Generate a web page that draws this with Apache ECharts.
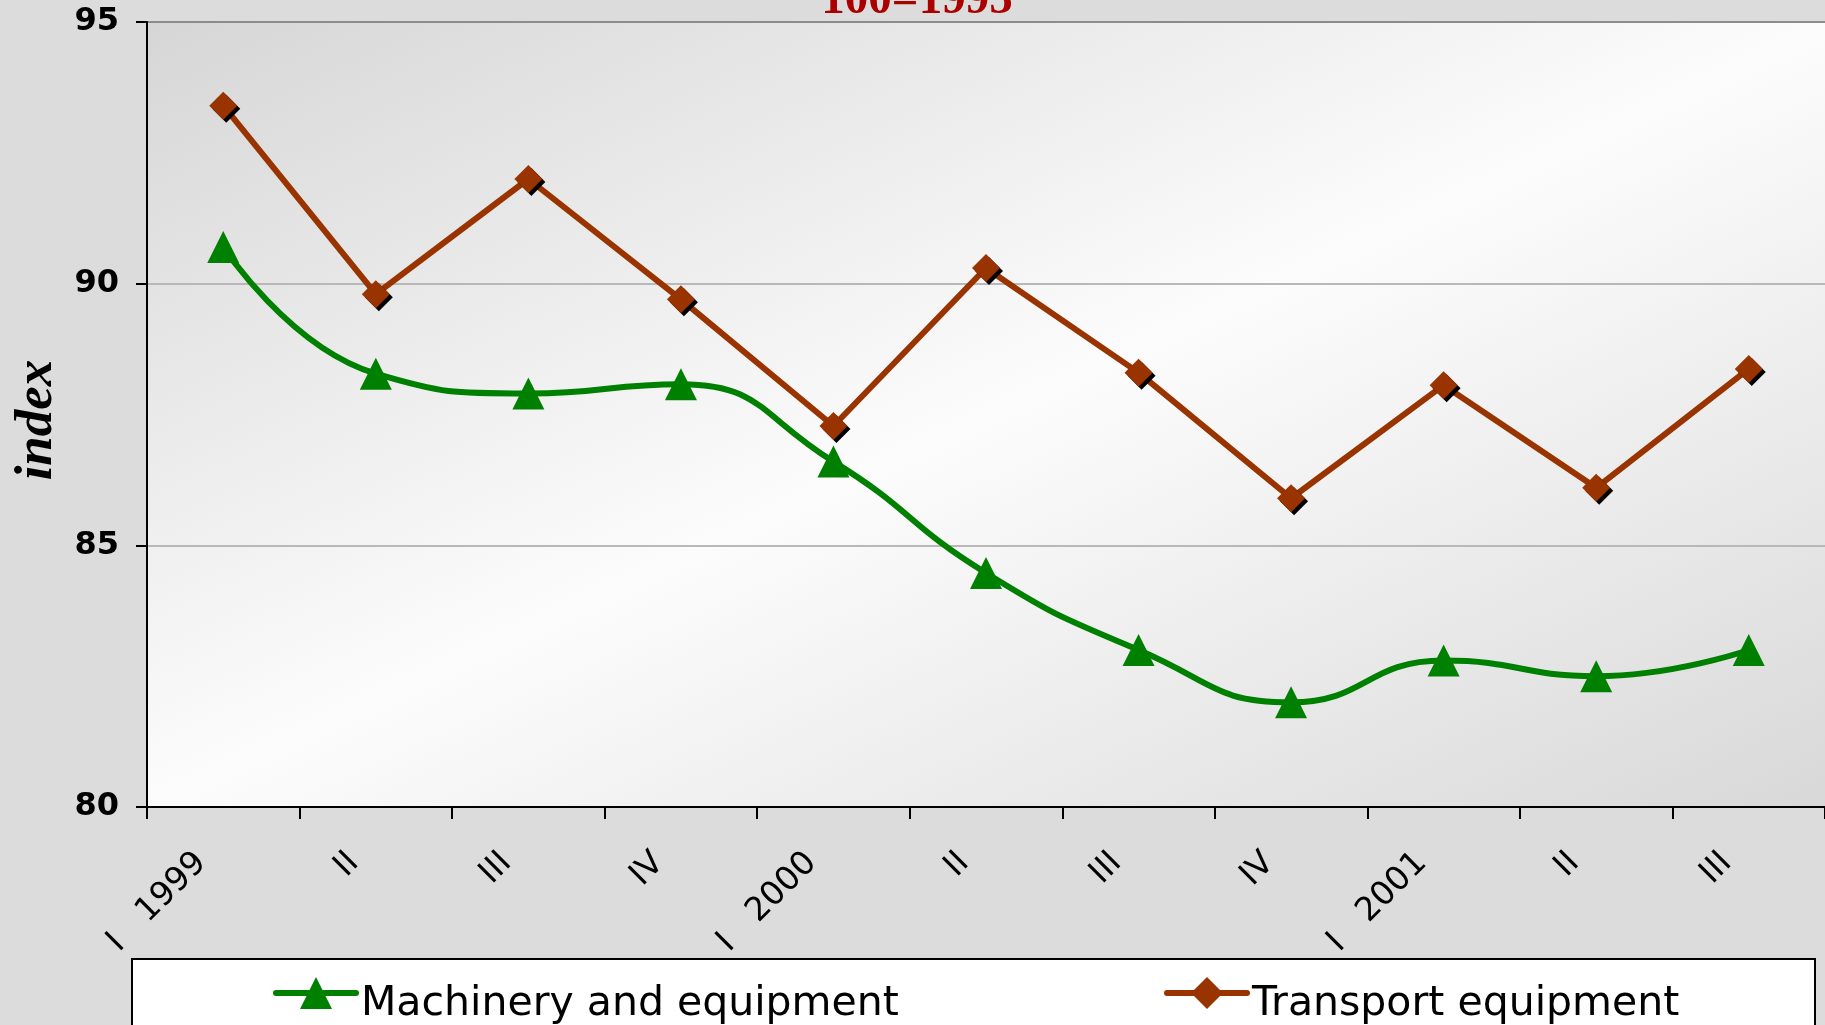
<!DOCTYPE html>
<html>
<head>
<meta charset="utf-8">
<script src="https://cdn.jsdelivr.net/npm/echarts@6/dist/echarts.min.js"></script>
<style>
  html, body { margin: 0; padding: 0; background: #dcdcdc; }
  #chart { width: 1825px; height: 1025px; }
</style>
</head>
<body>
<div id="chart"></div>
<script>
// Quarterly index, 100 = 1995
const quarters = ['I', 'II', 'III', 'IV', 'I', 'II', 'III', 'IV', 'I', 'II', 'III'];
const years = ['1999', '', '', '', '2000', '', '', '', '2001', '', ''];
const machinery = [90.7, 88.28, 87.9, 88.08, 86.6, 84.47, 83.0, 82.0, 82.8, 82.5, 83.0];
const transport = [93.4, 89.8, 92.0, 89.7, 87.28, 90.3, 88.3, 85.9, 88.06, 86.1, 88.37];
const seriesNames = ['Machinery and equipment', 'Transport equipment'];
const yMin = 80, yMax = 95, yStep = 5;
const titleText = '100=1995';

const categories = quarters.map((q, i) => years[i] ? q + '   ' + years[i] : q);

const chart = echarts.init(document.getElementById('chart'), null, { renderer: 'canvas' });

const legendBase = {
  top: 977,
  itemWidth: 80, itemHeight: 40,
  padding: 0,
  formatter: name => '{t|' + name + '}',
  textStyle: {
    color: '#000',
    rich: {
      t: { fontSize: 41, fontFamily: '"DejaVu Sans"', color: '#000', padding: [22, 0, 0, 0] }
    }
  },
  lineStyle: { width: 6, cap: 'round' },
  z: 5
};

chart.setOption({
  animation: false,
  backgroundColor: '#dcdcdc',
  graphic: [
    {
      type: 'rect',
      shape: { x: 132, y: 959, width: 1683, height: 120 },
      style: { fill: '#ffffff', stroke: '#000000', lineWidth: 2 },
      z: 1
    },
    {
      type: 'text',
      x: 917, y: 1,
      style: {
        text: titleText,
        fill: '#aa0000',
        font: 'bold 47px "Liberation Serif", serif',
        textAlign: 'center',
        textVerticalAlign: 'middle'
      },
      z: 1
    }
  ],
  grid: {
    left: 147, top: 22, width: 1686, height: 785,
    show: true,
    borderWidth: 0,
    backgroundColor: {
      type: 'linear', x: 0, y: 0, x2: 0.356, y2: 1.643,
      colorStops: [
        { offset: 0, color: '#d6d6d6' },
        { offset: 0.5, color: '#fcfcfc' },
        { offset: 1, color: '#d8d8d8' }
      ]
    }
  },
  legend: [
    Object.assign({ data: [seriesNames[0]], left: 273 }, legendBase),
    Object.assign({ data: [seriesNames[1]], left: 1164 }, legendBase)
  ],
  xAxis: {
    type: 'category',
    data: categories,
    boundaryGap: true,
    axisLine: { lineStyle: { color: '#000', width: 2 } },
    axisTick: { show: true, length: 12, lineStyle: { color: '#000', width: 2 } },
    axisLabel: {
      rotate: 45,
      margin: 29,
      interval: 0,
      fontSize: 33,
      fontFamily: '"DejaVu Sans"',
      color: '#000',
      padding: [0, 31, 0, 0]
    },
    splitLine: { show: false }
  },
  yAxis: {
    type: 'value',
    min: yMin, max: yMax, interval: yStep,
    name: 'index',
    nameLocation: 'middle',
    nameRotate: 90,
    nameGap: 77,
    nameTextStyle: {
      fontFamily: '"Liberation Serif", serif',
      fontStyle: 'italic',
      fontWeight: 'bold',
      fontSize: 53,
      color: '#000',
      padding: [0, 11, 0, 0]
    },
    axisLine: { show: true, lineStyle: { color: '#000', width: 2 } },
    axisTick: { show: true, length: 11, lineStyle: { color: '#000', width: 2 } },
    axisLabel: {
      margin: 28,
      fontSize: 32,
      fontWeight: 'bold',
      fontFamily: '"DejaVu Sans"',
      color: '#000'
    },
    splitLine: { show: true, lineStyle: { color: ['#000', '#b8b8b8', '#b8b8b8', '#8c8c8c'], width: 2 } }
  },
  series: [
    {
      name: seriesNames[0],
      type: 'line',
      data: machinery,
      smooth: 0.5,
      symbol: 'triangle',
      symbolSize: 32,
      itemStyle: { color: '#008000' },
      lineStyle: { color: '#008000', width: 6 },
      z: 3
    },
    {
      name: seriesNames[1],
      type: 'line',
      data: transport,
      smooth: false,
      symbol: 'diamond',
      symbolSize: 28,
      itemStyle: {
        color: '#993300',
        shadowColor: '#000',
        shadowOffsetX: 3,
        shadowOffsetY: 3,
        shadowBlur: 0
      },
      lineStyle: { color: '#993300', width: 6 },
      z: 4
    }
  ]
});
</script>
</body>
</html>
